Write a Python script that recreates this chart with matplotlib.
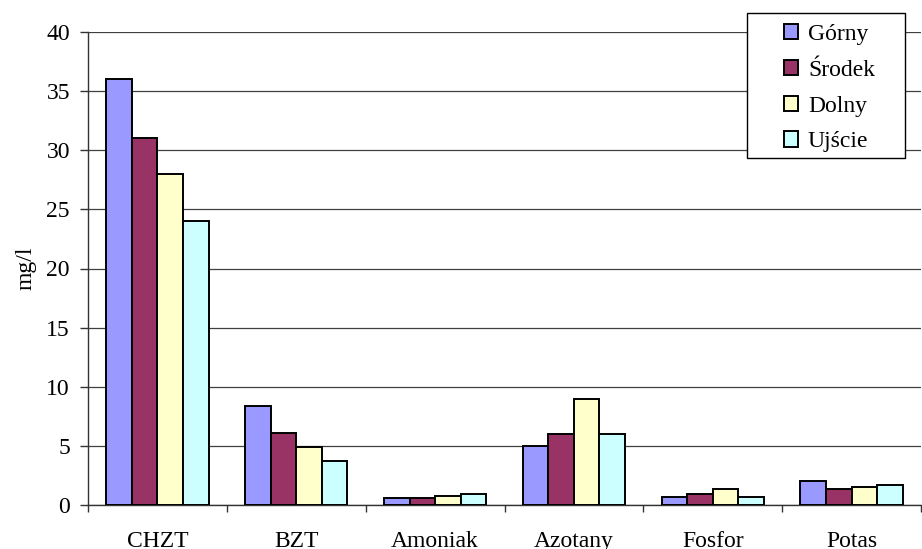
import matplotlib
matplotlib.use("Agg")
import matplotlib.pyplot as plt
from matplotlib.patches import Rectangle
import numpy as np

categories = ["CHZT", "BZT", "Amoniak", "Azotany", "Fosfor", "Potas"]
series_names = ["Górny", "Środek", "Dolny", "Ujście"]
gorny = [36, 8.4, 0.55, 5.0, 0.7, 2.05]
srodek = [31, 6.1, 0.6, 6.0, 0.9, 1.35]
dolny = [28, 4.9, 0.75, 9.0, 1.35, 1.5]
ujscie = [24, 3.7, 0.9, 6.0, 0.7, 1.65]
colors = ["#9999FF", "#993366", "#FFFFCC", "#CCFFFF"]

plt.rcParams["font.family"] = ["Liberation Serif", "DejaVu Serif"]
plt.rcParams["font.size"] = 17

W, H = 922, 549
fig = plt.figure(figsize=(W / 100, H / 100), dpi=100)
ax = fig.add_axes([88 / W, 1 - 505 / H, (921 - 88) / W, (505 - 32) / H])

x = np.arange(len(categories))
bw = 0.184
values = [gorny, srodek, dolny, ujscie]
for i, (name, vals, col) in enumerate(zip(series_names, values, colors)):
    ax.bar(x + (i - 1.5) * bw, vals, width=bw, color=col, edgecolor="black",
           linewidth=1.4, label=name, zorder=3)

ax.set_xlim(-0.5, len(categories) - 0.5)
ax.set_ylim(0, 40)
ax.set_yticks(range(0, 41, 5))
ax.yaxis.grid(True, color="#404040", linewidth=0.9, zorder=0)
ax.set_axisbelow(True)

ax.set_xticks(x)
ax.set_xticklabels(categories)
ax.set_xticks(np.arange(-0.5, len(categories), 1.0), minor=True)
ax.tick_params(axis="x", which="major", length=0, pad=19)
ax.tick_params(axis="x", which="minor", length=5, width=1, direction="out", color="#333333")
ax.tick_params(axis="y", length=6, width=1, direction="out", pad=7, color="#333333")

for s in ["top", "right"]:
    ax.spines[s].set_visible(False)
for s in ["left", "bottom"]:
    ax.spines[s].set_color("#333333")
    ax.spines[s].set_linewidth(1.0)

ax.set_ylabel("mg/l", fontsize=17, labelpad=7)

# legend frame drawn as a fixed box, legend placed inside it
fig.patches.append(Rectangle((747 / W, 1 - 158 / H), (905 - 747) / W, (158 - 13) / H,
                             transform=fig.transFigure, facecolor="white",
                             edgecolor="black", linewidth=1.0, zorder=5))
leg = fig.legend(loc="upper left", bbox_to_anchor=(772 / W, 1 - 12 / H),
                 frameon=False, borderpad=0, handlelength=0.62, handleheight=0.62,
                 handletextpad=0.4, labelspacing=0.63)
leg.set_zorder(6)

fig.savefig("out.png", dpi=100)
